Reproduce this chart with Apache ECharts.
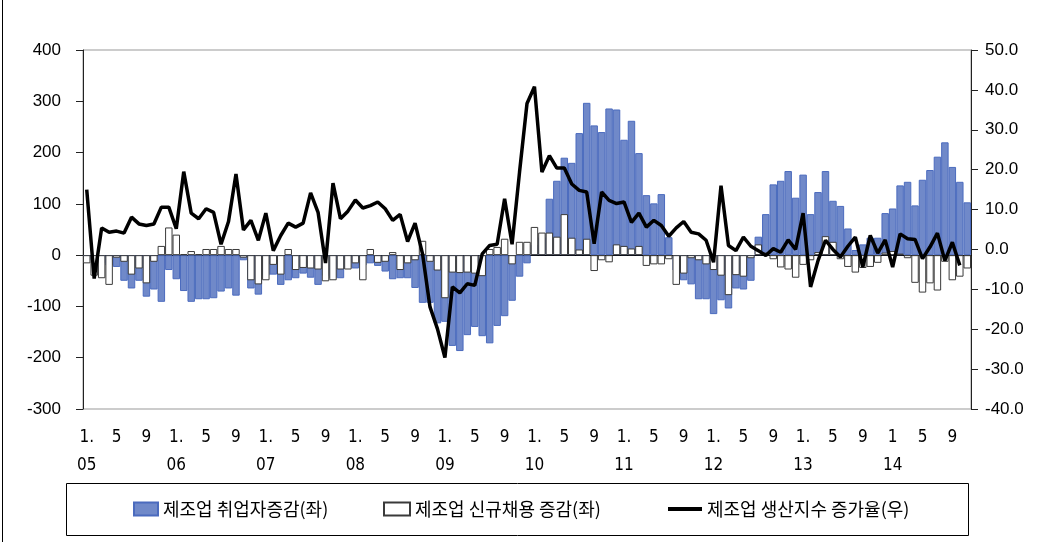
<!DOCTYPE html>
<html>
<head>
<meta charset="utf-8">
<script src="https://cdn.jsdelivr.net/npm/echarts@6/dist/echarts.min.js"></script>
<style>
  html, body { margin: 0; padding: 0; background: #fff; }
  #chart { width: 1037px; height: 542px; }
</style>
</head>
<body>
<div id="chart"></div>
<script>
// 2005.1 ~ 2014.11 월별
const years = ['05', '06', '07', '08', '09', '10', '11', '12', '13', '14'];
const monthTicks = [
  '1.', '5', '9', '1.', '5', '9', '1.', '5', '9', '1.', '5', '9', '1.', '5', '9',
  '1.', '5', '9', '1.', '5', '9', '1.', '5', '9', '1.', '5', '9', '1', '5', '9'
];

// 제조업 취업자증감(좌), 천명
const employChange = [
  -5, -10, -15, -20, -23, -50, -65, -50, -81, -67, -91, -29,
  -47, -70, -91, -86, -86, -84, -71, -65, -79, -10, -65, -77,
  -40, -38, -58, -49, -45, -36, -44, -58, -40, -45, -45, -25,
  -26, -20, -16, -21, -32, -47, -45, -45, -64, -93, -93, -133,
  -130, -177, -187, -156, -140, -158, -172, -138, -119, -89, -42, -16,
  20, 35, 110, 145, 190, 180, 238, 297, 253, 240, 286, 284,
  225, 262, 199, 117, 101, 119, 35, -30, -49, -57, -86, -86,
  -115, -88, -104, -65, -67, -50, 36, 80, 138, 145, 164, 112,
  157, 80, 123, 164, 106, 96, 52, 10, 21, 34, 34, 82,
  91, 136, 143, 97, 147, 166, 192, 220, 172, 143, 103
];

// 제조업 신규채용 증감(좌), 천명
const hireChange = [
  -16, -40, -45, -58, -5, -13, -38, -26, -55, -13, 18, 54,
  40, 2, 8, 2, 12, 12, 18, 12, 12, -5, -49, -57,
  -49, -19, -38, 12, -29, -25, -26, -28, -51, -49, -28, -28,
  -16, -49, 12, -15, -13, 6, -29, -16, -10, 28, -13, -30,
  -84, -34, -35, -34, -36, -41, 12, 16, 32, -18, 26, 26,
  55, 44, 44, 36, 80, 34, 11, 32, -31, -10, -14, 21,
  18, 13, 18, -21, -18, -18, -8, -58, -36, -6, -10, -18,
  -29, -40, -78, -39, -42, -6, 21, 5, -8, -24, -28, -44,
  -19, -10, 6, 37, 26, -8, -23, -34, -25, -23, -15, 5,
  8, 3, -6, -54, -73, -55, -69, -13, -49, -42, -26
];

// 제조업 생산지수 증가율(우), %
const prodGrowth = [
  15.0, -7.3, 5.4, 4.3, 4.6, 4.1, 8.1, 6.4, 6.0, 6.4, 10.6, 10.6,
  5.2, 19.5, 9.1, 7.7, 10.2, 9.3, 1.3, 7.0, 18.9, 4.9, 7.3, 2.3,
  9.1, -0.3, 3.5, 6.6, 5.6, 6.6, 14.2, 9.3, -3.4, 16.6, 7.7, 9.6,
  12.4, 10.4, 11.0, 11.9, 10.2, 7.3, 8.8, 2.0, 6.6, -1.1, -14.4, -19.9,
  -27.1, -9.4, -10.9, -8.6, -9.0, -1.1, 1.0, 1.3, 12.7, 1.3, 19.4, 36.6,
  40.8, 19.4, 23.5, 20.4, 20.4, 16.4, 14.8, 14.4, 1.4, 14.4, 12.3, 11.5,
  11.9, 6.8, 9.1, 5.6, 7.3, 6.0, 3.3, 5.4, 7.0, 4.3, 3.9, 2.3,
  -3.2, 16.0, 1.0, -0.3, 3.1, 0.8, -0.3, -1.5, 0.2, -0.7, 2.4, 0.0,
  9.1, -9.4, -2.8, 2.3, 0.0, -1.9, 0.8, 3.1, -4.4, 3.5, -0.9, 2.4,
  -4.4, 3.9, 2.7, 2.5, -2.3, 0.6, 4.1, -2.8, 1.8, -4.0, null
];

const months = [];
years.forEach(function (y) {
  for (let m = 1; m <= 12; m++) {
    if (months.length < employChange.length) months.push(y + '.' + m);
  }
});

const chart = echarts.init(document.getElementById('chart'));
const axisFont = 'Liberation Sans, Arial, sans-serif';
const legendText = { fontFamily: 'Noto Sans CJK KR', fontSize: 18, color: '#000' };

chart.setOption({
  animation: false,
  grid: {
    left: 83,
    right: 66,
    top: 50,
    bottom: 133,
    show: true,
    borderColor: '#999',
    borderWidth: 1
  },
  legend: [
    {
      left: 128, top: 495, itemWidth: 24, itemHeight: 13, itemGap: 0,
      textStyle: legendText,
      data: [{ name: '제조업 취업자증감(좌)', icon: 'rect' }]
    },
    {
      left: 378, top: 495, itemWidth: 26, itemHeight: 13, itemGap: 0,
      textStyle: legendText,
      data: [{ name: '제조업 신규채용 증감(좌)', icon: 'rect' }]
    },
    {
      left: 661, top: 495, itemWidth: 34, itemHeight: 13, itemGap: 0,
      textStyle: legendText,
      data: [{
        name: '제조업 생산지수 증가율(우)',
        itemStyle: { opacity: 0 },
        lineStyle: { color: '#000', width: 4 }
      }]
    }
  ],
  graphic: [
    {
      type: 'rect',
      shape: { x: 66.5, y: 483.5, width: 902, height: 52 },
      style: { fill: 'none', stroke: '#000', lineWidth: 1 }
    },
    {
      type: 'line',
      shape: { x1: 2.5, y1: 0, x2: 2.5, y2: 542 },
      style: { stroke: '#000', lineWidth: 1 }
    }
  ],
  xAxis: [
    {
      // 0선 위치 축 (눈금만)
      type: 'category',
      data: months,
      axisLine: { onZero: true, onZeroAxisIndex: 0, lineStyle: { color: '#000', width: 1 } },
      axisTick: { inside: true, length: 5, interval: 0, lineStyle: { color: '#000' } },
      axisLabel: { show: false },
      splitLine: { show: false }
    },
    {
      // 하단 라벨용 축
      type: 'category',
      data: months,
      position: 'bottom',
      axisLine: { show: false, onZero: false },
      axisTick: { show: false },
      axisLabel: {
        interval: 3,
        margin: 15,
        fontFamily: 'Liberation Sans Narrow, DejaVu Sans Condensed, sans-serif',
        fontSize: 17,
        lineHeight: 28,
        color: '#000',
        formatter: function (value, idx) {
          if (idx % 4 !== 0) return '';
          const k = idx / 4;
          const yr = k % 3 === 0 ? years[k / 3] : '';
          return monthTicks[k] + '\n' + yr;
        }
      },
      splitLine: { show: false }
    },
    {
      // 신규채용 막대를 겹쳐 그리기 위한 숨은 축
      type: 'category',
      data: months,
      show: false
    }
  ],
  yAxis: [
    {
      type: 'value',
      min: -300,
      max: 400,
      interval: 100,
      axisLine: { show: true, lineStyle: { color: '#222' } },
      axisTick: { show: true, length: 7, lineStyle: { color: '#222' } },
      axisLabel: { margin: 22, fontFamily: axisFont, fontSize: 17, color: '#000' },
      splitLine: { show: false }
    },
    {
      type: 'value',
      min: -40,
      max: 50,
      interval: 10,
      position: 'right',
      axisLine: { show: true, lineStyle: { color: '#222' } },
      axisTick: { show: true, length: 7, lineStyle: { color: '#222' } },
      axisLabel: {
        margin: 14,
        fontFamily: axisFont,
        fontSize: 17,
        color: '#000',
        formatter: function (v) { return v.toFixed(1); }
      },
      splitLine: { show: false }
    }
  ],
  series: [
    {
      name: '제조업 취업자증감(좌)',
      type: 'bar',
      xAxisIndex: 0,
      yAxisIndex: 0,
      barCategoryGap: '0%',
      itemStyle: { color: '#7089C9', borderColor: '#4B6BBE', borderWidth: 1 },
      data: employChange
    },
    {
      name: '제조업 신규채용 증감(좌)',
      type: 'bar',
      xAxisIndex: 2,
      yAxisIndex: 0,
      barCategoryGap: '0%',
      itemStyle: { color: '#fff', borderColor: '#3a3a3a', borderWidth: 1 },
      data: hireChange
    },
    {
      name: '제조업 생산지수 증가율(우)',
      type: 'line',
      xAxisIndex: 0,
      yAxisIndex: 1,
      symbol: 'none',
      lineStyle: { color: '#000', width: 3.5 },
      itemStyle: { color: '#000' },
      z: 5,
      data: prodGrowth
    }
  ]
});
</script>
</body>
</html>
